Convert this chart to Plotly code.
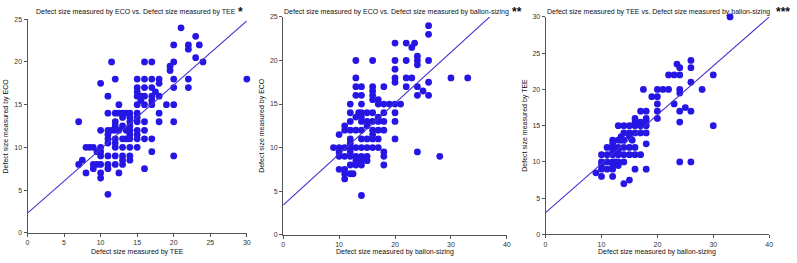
import plotly.graph_objects as go

# panel 1: ECO vs TEE
tee_1 = [21, 23, 20, 22, 23.5, 22, 23,
         11.5, 16, 17, 20, 24, 19.5, 19.5,
         12, 15, 16, 17, 18, 20, 22, 30,
         10, 18, 15, 16, 17, 20, 22, 15, 17.5,
         11, 15, 15.5, 16, 17, 18, 15.5, 17,
         12.5, 15, 16, 17, 19, 20,
         11, 12, 12.5, 13, 13.5, 14, 15, 18,
         13, 14, 15,
         7, 12, 14, 15, 16, 18, 20,
         12, 13, 14,
         10, 11, 11.5, 12, 12.5, 13.5, 14, 15, 16,
         11, 14, 15,
         11, 12, 13, 13.5, 14, 15, 16, 17,
         11, 12,
         8, 8.5, 9, 10, 12, 13, 14, 15,
         9.5, 10, 17,
         10, 11, 12, 13, 14, 20,
         7.5, 13, 14,
         7, 9, 9.5, 10, 11, 12, 13,
         9, 11, 16,
         8, 10, 12.5,
         10, 11]
eco_1 = [24, 23, 22, 22, 22, 21.5, 20.5,
         20, 20, 20, 20, 20, 19.5, 19,
         18, 18, 18, 18, 18, 18, 18, 18,
         17.5, 17.5, 17, 17, 17, 17, 17, 16.5, 16.5,
         16, 16, 16, 16, 16, 16, 15.5, 15.5,
         15, 15, 15, 15, 15, 15,
         14, 14, 14, 14, 14, 14, 14, 14,
         13.5, 13.5, 13.5,
         13, 13, 13, 13, 13, 13, 13,
         12.5, 12.5, 12.5,
         12, 12, 12, 12, 12, 12, 12, 12, 12,
         11.5, 11.5, 11.5,
         11, 11, 11, 11, 11, 11, 11, 11,
         10.5, 10.5,
         10, 10, 10, 10, 10, 10, 10, 10,
         9.5, 9.5, 9.5,
         9, 9, 9, 9, 9, 9,
         8.5, 8.5, 8.5,
         8, 8, 8, 8, 8, 8, 8,
         7.5, 7.5, 7.5,
         7, 7, 7,
         6.4, 4.5]

# panel 2: ECO vs ballon-sizing
ballon_2 = [26, 26, 20, 22, 23.5, 23, 24,
            13, 16, 20, 22, 24, 26, 24, 20,
            13, 20, 22, 23, 30, 33, 20, 26,
            13, 14, 16, 18, 22, 24, 16, 25,
            13, 14, 16, 24, 26, 16, 17,
            12, 14, 17, 18, 19, 20, 21,
            12, 13.5, 14, 15, 16, 18, 20,
            13, 14, 17,
            12, 14, 15, 16, 17, 18, 20,
            11, 15,
            11, 12, 13, 14, 16, 17, 18,
            10, 16,
            12, 14, 15, 16, 17, 20,
            12,
            9, 10, 11, 12, 13, 14, 15, 16, 17,
            10, 12, 18, 24,
            10, 11, 12, 13, 14, 15, 18, 28,
            13, 14, 15,
            12, 13, 14, 18,
            10, 11,
            11, 12, 12.5,
            11, 14]
eco_2 = [24, 23, 22, 22, 22, 21.5, 20.5,
         20, 20, 20, 20, 20, 20, 19.5, 19,
         18, 18, 18, 18, 18, 18, 17.5, 17.5,
         17, 17, 17, 17, 17, 17, 16.5, 16.5,
         16, 16, 16, 16, 16, 15.5, 15.5,
         15, 15, 15, 15, 15, 15, 15,
         14, 14, 14, 14, 14, 14, 14,
         13.5, 13.5, 13.5,
         13, 13, 13, 13, 13, 13, 13,
         12.5, 12.5,
         12, 12, 12, 12, 12, 12, 12,
         11.5, 11.5,
         11, 11, 11, 11, 11, 11,
         10.5,
         10, 10, 10, 10, 10, 10, 10, 10, 10,
         9.5, 9.5, 9.5, 9.5,
         9, 9, 9, 9, 9, 9, 9, 9,
         8.5, 8.5, 8.5,
         8, 8, 8, 8,
         7.5, 7.5,
         7, 7, 7,
         6.4, 4.5]

# panel 3: TEE vs ballon-sizing
ballon_3 = [33, 26, 23.5, 24, 26,
            22, 23, 24, 30, 26,
            17.5, 20, 21, 22, 24, 28,
            24, 19, 20, 20, 23, 25,
            17, 18, 20, 24, 26,
            16, 18, 20,
            16, 17, 18, 24,
            13, 14, 15, 16, 17, 18, 30,
            14, 15, 16, 17, 18,
            13.5, 15,
            12, 13, 13.5, 14, 15.5,
            12, 18,
            11, 12, 13, 14, 15, 16,
            12, 13,
            10, 11, 12, 13, 14, 15, 16, 17,
            10, 11, 12, 12.5, 13, 14, 24, 26,
            10, 12, 13,
            10, 11, 12, 16, 18,
            9, 10, 12, 15, 14]
tee_3 = [30, 24, 23.5, 23, 23,
         22, 22, 22, 22, 21,
         20, 20, 20, 20, 20, 20,
         19.5, 19, 19, 18, 18, 17.5,
         17, 17, 17, 17, 17,
         16, 16, 16,
         15.5, 15.5, 15.5, 15.5,
         15, 15, 15, 15, 15, 15, 15,
         14, 14, 14, 14, 14,
         13.5, 13.5,
         13, 13, 13, 13, 13,
         12.5, 12.5,
         12, 12, 12, 12, 12, 12,
         11.5, 11.5,
         11, 11, 11, 11, 11, 11, 11, 11,
         10, 10, 10, 10, 10, 10, 10, 10,
         9.5, 9.5, 9.5,
         9, 9, 9, 9, 9,
         8.5, 8, 8, 7.5, 7]

# fitted lines (intercept, slope, last x)
intercepts = [2.3, 3.4, 3.0]
slopes = [0.75, 0.585, 0.675]
line_end_x = [30, 37, 40]

titles = ["Defect size measured by ECO vs. Defect size measured by TEE",
          "Defect size measured by ECO vs. Defect size measured by ballon-sizing",
          "Defect size measured by TEE vs. Defect size measured by ballon-sizing"]
stars = ["*", "**", "***"]
x_titles = ["Defect size measured by TEE",
            "Defect size measured by ballon-sizing",
            "Defect size measured by ballon-sizing"]
y_titles = ["Defect size measured by ECO",
            "Defect size measured by ECO",
            "Defect size measured by TEE"]

xs = [tee_1, ballon_2, ballon_3]
ys = [eco_1, eco_2, tee_3]
x_ranges = [[0, 30], [0, 40], [0, 40]]
y_ranges = [[0, 25], [0, 25], [0, 30]]
x_dticks = [5, 10, 10]

W, H = 797, 263
# plot area pixel boxes: left, right, top(y max), bottom(y 0)
boxes = [(25.7, 246.7, 15.7, 235.0),
         (283.3, 508.7, 13.3, 237.0),
         (547.7, 773.0, 13.3, 236.7)]
title_x = [135, 397, 661]
star_x = [240, 519, 787]
ytitle_x = [4.5, 262, 527]

dot_color = "rgb(38,22,228)"
line_color = "rgb(70,50,205)"
font = "Liberation Sans, Arial, sans-serif"

fig = go.Figure()
layout = dict(width=W, height=H, margin=dict(l=0, r=0, t=0, b=0),
              paper_bgcolor="white", plot_bgcolor="white",
              showlegend=False, font=dict(family=font, size=7, color="#222"))
annotations = []

for i in range(3):
    sfx = "" if i == 0 else str(i + 1)
    fig.add_trace(go.Scatter(x=xs[i], y=ys[i], mode="markers",
                             marker=dict(color=dot_color, size=6.8),
                             cliponaxis=False,
                             xaxis="x" + sfx, yaxis="y" + sfx))
    lx = [0, line_end_x[i]]
    ly = [intercepts[i] + slopes[i] * v for v in lx]
    fig.add_trace(go.Scatter(x=lx, y=ly, mode="lines",
                             line=dict(color=line_color, width=1.1),
                             cliponaxis=False,
                             xaxis="x" + sfx, yaxis="y" + sfx))

    l, r, t, b = boxes[i]
    axis_style = dict(showgrid=False, zeroline=False, showline=True,
                      linecolor="#555", linewidth=1, ticks="outside",
                      ticklen=3, tickcolor="#555",
                      tickfont=dict(size=7, color="#333"))
    layout["xaxis" + sfx] = dict(axis_style, domain=[l / W, r / W],
                                 range=x_ranges[i], dtick=x_dticks[i],
                                 anchor="y" + sfx)
    layout["yaxis" + sfx] = dict(axis_style, domain=[1 - b / H, 1 - t / H],
                                 range=y_ranges[i], dtick=5,
                                 anchor="x" + sfx)

    annotations.append(dict(text=titles[i], x=title_x[i] / W, y=1 - 8 / H,
                            xanchor="center", yanchor="middle",
                            xref="paper", yref="paper", showarrow=False,
                            font=dict(size=7, color="#111")))
    annotations.append(dict(text="<b>" + stars[i] + "</b>", x=star_x[i] / W,
                            y=1 - 8 / H, xanchor="center", yanchor="middle",
                            xref="paper", yref="paper",
                            showarrow=False, font=dict(size=12, color="#111")))
    annotations.append(dict(text=x_titles[i], x=(l + r) / 2 / W, y=1 - 255 / H,
                            xanchor="center", yanchor="middle",
                            xref="paper", yref="paper", showarrow=False,
                            font=dict(size=7, color="#111")))
    annotations.append(dict(text=y_titles[i], x=ytitle_x[i] / W,
                            y=1 - (t + b) / 2 / H, xref="paper", yref="paper",
                            xanchor="center", yanchor="middle",
                            showarrow=False, textangle=-90,
                            font=dict(size=7, color="#111")))

layout["annotations"] = annotations
fig.update_layout(**layout)
fig.write_html("out.html", config={"displayModeBar": False},
               post_script="document.body.style.margin='0';")
